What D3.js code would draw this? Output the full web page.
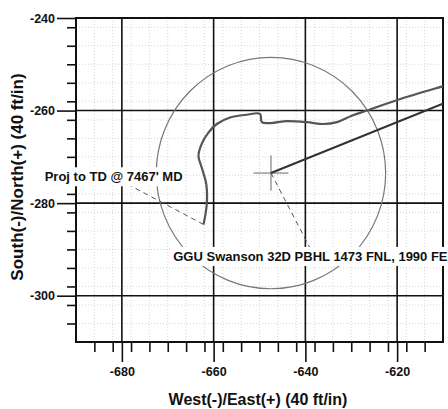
<!DOCTYPE html>
<html>
<head>
<meta charset="utf-8">
<script src="https://cdn.jsdelivr.net/npm/d3@7"></script>
<style>
  body { margin: 0; background: #fff; }
  svg { display: block; }
  text { font-family: "Liberation Sans", Arial, sans-serif; font-weight: bold; fill: #111; }
</style>
</head>
<body>
<svg id="chart" width="448" height="409"></svg>
<script>
// axis setup
var xDomain = [-690, -610];
var yDomain = [-310, -240];
var xTicks = [-680, -660, -640, -620];
var yTicks = [-240, -260, -280, -300];

// actual survey, from the right edge down to projection to TD
var surveyX = [-605, -609.5, -619.3, -626.6, -629.9, -633.1, -636.1, -639.7, -644.0, -647.7, -649.5,
  -649.9, -652.8, -656.4, -659.3, -661.1, -662.6, -663.3, -662.6, -661.6, -661.5, -662.2];
var surveyY = [-253.3, -254.6, -257.5, -260.0, -261.1, -262.5, -262.9, -262.5, -262.3, -262.7, -262.5,
  -260.7, -260.9, -261.5, -262.9, -264.7, -267.2, -269.8, -272.3, -275.9, -280.3, -284.6];

// planned line from target out to the right
var planX = [-647.5, -600];
var planY = [-273.5, -254.5];

// target circle
var targetX = -647.5;
var targetY = -273.5;
var targetR = 25;
var crossHalf = 3.8;

// labels
var labelText = ["Proj to TD @ 7467' MD", "GGU Swanson 32D PBHL 1473 FNL, 1990 FEL"];
var labelX = [-681.8, -668.8];
var labelY = [-274.3, -291.5];
var labelAnchor = ["middle", "start"];

var margin = { left: 76, top: 18 };
var width = 367, height = 324;

var svg = d3.select("#chart");
var g = svg.append("g").attr("transform", "translate(" + margin.left + "," + margin.top + ")");

var x = d3.scaleLinear().domain(xDomain).range([0, width]);
var y = d3.scaleLinear().domain(yDomain).range([height, 0]);

svg.append("defs").append("clipPath").attr("id", "plot")
  .append("rect").attr("width", width).attr("height", height);

// fine dotted grid every 4 ft
var minorX = d3.range(xDomain[0], xDomain[1] + 0.1, 4);
var minorY = d3.range(yDomain[0], yDomain[1] + 0.1, 4);

g.selectAll(".mgx").data(minorX).enter().append("line")
  .attr("x1", d => x(d)).attr("x2", d => x(d))
  .attr("y1", 0).attr("y2", height)
  .attr("stroke", "#c4c4c4").attr("stroke-width", 0.7).attr("stroke-dasharray", "1,2");
g.selectAll(".mgy").data(minorY).enter().append("line")
  .attr("y1", d => y(d)).attr("y2", d => y(d))
  .attr("x1", 0).attr("x2", width)
  .attr("stroke", "#c4c4c4").attr("stroke-width", 0.7).attr("stroke-dasharray", "1,2");

// major grid
g.selectAll(".gx").data(xTicks).enter().append("line")
  .attr("x1", d => x(d)).attr("x2", d => x(d))
  .attr("y1", 0).attr("y2", height)
  .attr("stroke", "#111").attr("stroke-width", 1.6);
g.selectAll(".gy").data(yTicks).enter().append("line")
  .attr("y1", d => y(d)).attr("y2", d => y(d))
  .attr("x1", 0).attr("x2", width)
  .attr("stroke", "#111").attr("stroke-width", 1.6);

// axes: minor ticks then major ticks with labels
var fmt = d => String(d);
var xMinorAxis = d3.axisBottom(x).tickValues(minorX.filter(d => d > xDomain[0] && d < xDomain[1])).tickSize(10).tickFormat("");
var xAxis = d3.axisBottom(x).tickValues(xTicks).tickSize(20).tickPadding(5).tickFormat(fmt);
var yMinorAxis = d3.axisLeft(y).tickValues(minorY.filter(d => d > yDomain[0] && d < yDomain[1])).tickSize(9).tickFormat("");
var yAxis = d3.axisLeft(y).tickValues(yTicks).tickSize(19).tickPadding(2).tickFormat(fmt);

[xMinorAxis, xAxis].forEach(function(a) {
  g.append("g").attr("transform", "translate(0," + height + ")").call(a)
    .call(s => s.select(".domain").remove());
});
[yMinorAxis, yAxis].forEach(function(a) {
  g.append("g").call(a).call(s => s.select(".domain").remove());
});
g.selectAll(".tick line").attr("stroke", "#111").attr("stroke-width", 1.6);
g.selectAll(".tick text").style("font-size", "12.5px").style("font-family", "Liberation Sans, Arial, sans-serif")
  .style("font-weight", "bold").attr("fill", "#111");

// border
g.append("rect").attr("width", width).attr("height", height)
  .attr("fill", "none").attr("stroke", "#111").attr("stroke-width", 2);

var data = g.append("g").attr("clip-path", "url(#plot)");

// target circle
data.append("ellipse")
  .attr("cx", x(targetX)).attr("cy", y(targetY))
  .attr("rx", x(targetX + targetR) - x(targetX))
  .attr("ry", y(targetY - targetR) - y(targetY))
  .attr("fill", "none").attr("stroke", "#777").attr("stroke-width", 1.2);

// cross at target
data.append("line")
  .attr("x1", x(targetX - crossHalf)).attr("x2", x(targetX + crossHalf))
  .attr("y1", y(targetY)).attr("y2", y(targetY))
  .attr("stroke", "#666").attr("stroke-width", 1);
data.append("line")
  .attr("x1", x(targetX)).attr("x2", x(targetX))
  .attr("y1", y(targetY + crossHalf)).attr("y2", y(targetY - crossHalf))
  .attr("stroke", "#666").attr("stroke-width", 1);

// planned path
var line = d3.line().x(d => x(d[0])).y(d => y(d[1]));
data.append("path").datum(d3.zip(planX, planY))
  .attr("d", line).attr("fill", "none").attr("stroke", "#333").attr("stroke-width", 2.2);

// survey
data.append("path").datum(d3.zip(surveyX, surveyY))
  .attr("d", line.curve(d3.curveCatmullRom.alpha(0.5)))
  .attr("fill", "none").attr("stroke", "#555").attr("stroke-width", 2.2);

// leader lines to label centres
var endX = surveyX[surveyX.length - 1], endY = surveyY[surveyY.length - 1];
var leaderFrom = [[endX, endY], [targetX, targetY]];

var labels = g.append("g");
labelText.forEach(function(t, i) {
  var lg = labels.append("g");
  var txt = lg.append("text")
    .attr("x", x(labelX[i])).attr("y", y(labelY[i]))
    .attr("dy", "0.35em")
    .attr("text-anchor", labelAnchor[i])
    .style("font-size", "13px")
    .text(t);
  var bb = txt.node().getBBox();
  lg.insert("line", "text")
    .attr("x1", x(leaderFrom[i][0])).attr("y1", y(leaderFrom[i][1]))
    .attr("x2", bb.x + bb.width / 2).attr("y2", bb.y + bb.height / 2)
    .attr("stroke", "#555").attr("stroke-width", 1).attr("stroke-dasharray", "5,4");
  lg.insert("rect", "text")
    .attr("x", bb.x - 2).attr("y", bb.y - 2)
    .attr("width", bb.width + 4).attr("height", bb.height + 4)
    .attr("fill", "#fff");
});

// axis titles
svg.append("text")
  .attr("x", 258).attr("y", 405)
  .attr("text-anchor", "middle")
  .style("font-size", "16px")
  .text("West(-)/East(+) (40 ft/in)");
svg.append("text")
  .attr("transform", "translate(23,177) rotate(-90)")
  .attr("text-anchor", "middle")
  .style("font-size", "17px")
  .text("South(-)/North(+) (40 ft/in)");
</script>
</body>
</html>
